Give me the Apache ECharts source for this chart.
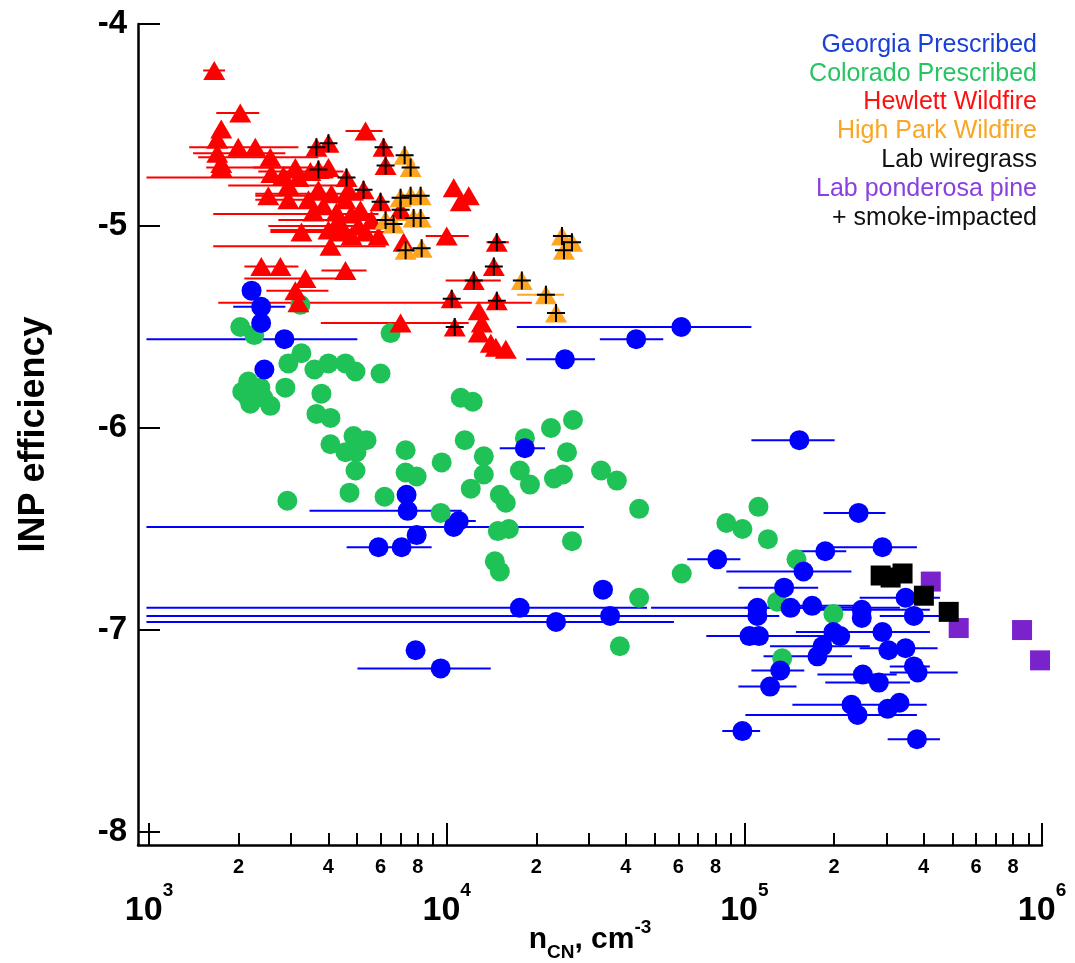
<!DOCTYPE html>
<html>
<head>
<meta charset="utf-8">
<script src="https://cdn.jsdelivr.net/npm/echarts@6/dist/echarts.min.js"></script>
<style>
html,body{margin:0;padding:0;background:#fff;}
#chart{width:1075px;height:963px;}
</style>
</head>
<body>
<div id="chart"></div>
<script>
// ---------------- DATA (n_CN in cm^-3, INP efficiency as log10) ----------------
// rows: [nCN, efficiency, errLow nCN, errHigh nCN]  (null = no error bar)
const georgiaPrescribed = [
  [2210,-5.32,null,null],[2380,-5.40,1918,2870],[2380,-5.48,null,null],[2850,-5.56,980,5010],
  [2440,-5.71,null,null],[61400,-5.50,17200,105600],[43300,-5.56,32700,53400],[24960,-5.66,18500,31500],
  [18300,-6.10,15070,21400],[153000,-6.06,105600,201000],[7330,-6.33,null,null],[7390,-6.41,3460,11230],
  [7925,-6.53,null,null],[5900,-6.59,4610,8900],[7055,-6.59,null,null],[10980,-6.46,9400,12520],
  [10560,-6.49,980,28900],[17600,-6.89,980,47100],[35400,-6.93,980,92500],[23300,-6.96,980,58000],
  [33500,-6.80,null,null],[7860,-7.10,null,null],[9545,-7.19,5015,14060],
  [242000,-6.42,184500,298000],[81100,-6.65,64300,97000],[187000,-6.61,153000,220000],
  [291000,-6.59,193000,380000],[158000,-6.71,87000,229000],[136000,-6.79,95500,177000],
  [110600,-6.89,48600,209000],[110600,-6.93,82400,131000],[143000,-6.89,100000,333000],
  [169000,-6.88,120000,250000],[248000,-6.90,176000,420000],[248000,-6.94,null,null],
  [348000,-6.84,244000,454000],[371000,-6.93,285000,454000],[104000,-7.03,74500,209000],
  [112000,-7.03,null,null],[199000,-7.01,149000,285000],[210000,-7.03,null,null],
  [291000,-7.01,209000,420000],[183000,-7.08,122000,264000],[176000,-7.13,116000,230000],
  [305000,-7.10,null,null],[348000,-7.09,244000,446000],[132000,-7.20,105600,159000],
  [122000,-7.28,95500,149700],[250000,-7.22,176000,325000],[283000,-7.26,187000,360000],
  [371000,-7.18,308000,420000],[382000,-7.21,308000,521000],[229000,-7.37,145000,410000],
  [240000,-7.42,100800,380000],[303000,-7.39,null,null],[332000,-7.36,null,null],
  [98500,-7.50,84300,113000],[380000,-7.54,303000,454000]
];
const coloradoPrescribed = [
  [2025,-5.50],[2257,-5.54],[3225,-5.39],[6477,-5.53],[3250,-5.63],[2938,-5.68],[3593,-5.71],
  [4006,-5.68],[4570,-5.68],[4938,-5.72],[5994,-5.73],[2154,-5.77],[2365,-5.80],[2870,-5.80],
  [2057,-5.82],[2154,-5.85],[2420,-5.85],[2188,-5.88],[2556,-5.89],[3794,-5.83],[3650,-5.93],
  [4069,-5.95],[4069,-6.08],[4862,-6.04],[5377,-6.06],[4570,-6.12],[4976,-6.12],[4938,-6.21],
  [7277,-6.11],[9618,-6.17],[7277,-6.22],[7925,-6.24],[11145,-5.85],[12231,-5.87],[11498,-6.06],
  [13323,-6.14],[13323,-6.23],[12045,-6.30],[4715,-6.32],[6184,-6.34],[2915,-6.36],[9545,-6.42],
  [15082,-6.33],[15795,-6.37],[14850,-6.51],[16172,-6.50],[14509,-6.66],[15082,-6.71],
  [18312,-6.05],[22400,-6.00],[26560,-5.96],[25360,-6.12],[17610,-6.21],[19043,-6.28],
  [22924,-6.25],[24579,-6.23],[33000,-6.21],[37290,-6.26],[44310,-6.40],[26355,-6.56],
  [44310,-6.84],[38160,-7.08],[61620,-6.72],[111530,-6.39],[87000,-6.47],[98510,-6.50],
  [119970,-6.55],[149700,-6.65],[128860,-6.86],[199100,-6.92],[134040,-7.14]
];
const hewlettWildfire = [
  [1656,-4.23,1520,1800],[2025,-4.44,1682,2346],[1748,-4.52,null,null],[1695,-4.57,null,null],
  [1994,-4.61,1364,3175],[2275,-4.61,null,null],[1695,-4.64,1406,2870],[2556,-4.66,1462,3707],
  [1748,-4.69,null,null],[1748,-4.71,1556,3175],[3101,-4.71,2239,4006],[2576,-4.74,null,null],
  [3484,-4.73,2328,4500],[4006,-4.71,null,null],[3175,-4.76,980,4164],[4100,-4.84,2275,4677],
  [4570,-4.87,2275,5254],[4788,-4.94,1643,5902],[5055,-5.00,2516,6892],[4329,-4.97,2719,6378],
  [4006,-5.02,2556,5462],[5336,-5.03,3175,6378],[5590,-4.97,3431,6892],[4431,-5.03,null,null],
  [4788,-5.05,null,null],[3250,-5.03,2556,4500],[4069,-5.10,1643,6232],[5902,-5.05,null,null],
  [7165,-5.08,null,null],[2383,-5.20,2090,3175],[2762,-5.20,null,null],[3353,-5.26,2090,4500],
  [3101,-5.32,2478,4006],[4570,-5.22,3794,5377],[3175,-5.38,1708,19300],[6998,-5.48,3776,11860],
  [10000,-5.05,8500,11860],[10558,-4.81,null,null],[11860,-4.85,null,null],[11145,-4.88,null,null],
  [12816,-5.42,null,null],[13115,-5.48,null,null],[12816,-5.53,null,null],[14066,-5.58,null,null],
  [15795,-5.61,null,null],[14621,-5.60,null,null],[2516,-4.85,2275,4006],[3566,-4.93,null,null],
  [3707,-4.82,null,null],[2938,-4.80,1845,4329],[5336,-4.53,4570,6090],
  [3431,-4.87,null,null],[3854,-4.90,null,null],[4263,-4.93,null,null],[5133,-4.92,null,null],
  [4677,-4.82,null,null],[2938,-4.87,null,null],[2826,-4.75,null,null]
];
const hewlettSmokeImpacted = [
  [4006,-4.59,null,null],[3650,-4.61,null,null],[3707,-4.72,null,null],[4606,-4.76,null,null],
  [5254,-4.82,null,null],[5994,-4.88,null,null],[6136,-4.61,null,null],[6232,-4.70,null,null],
  [6998,-4.92,null,null],[14735,-5.08,13600,16170],[14397,-5.20,null,null],[12328,-5.27,9920,15200],
  [10395,-5.36,null,null],[14735,-5.37,null,null],[10640,-5.50,null,null]
];
const highParkWildfire = [
  [7221,-4.65,null,null],[7564,-4.71,null,null],[6998,-4.86,null,null],[7564,-4.85,null,null],
  [8174,-4.85,null,null],[6232,-4.97,5678,7448],[6630,-4.99,null,null],[7742,-4.96,null,null],
  [8174,-4.96,null,null],[7277,-5.12,null,null],[8238,-5.11,null,null],[24391,-5.05,null,null],
  [26355,-5.08,null,null],[24772,-5.12,null,null],[17882,-5.27,null,null],[21543,-5.34,17250,24772],
  [23294,-5.43,null,null]
];
const labWiregrass = [[287000,-6.73],[310000,-6.74],[340000,-6.72],[401000,-6.83],[486000,-6.91]];
const labPonderosaPine = [[423000,-6.76],[525000,-6.99],[857000,-7.00],[985000,-7.15]];

// axis ticks
const xRange = [918, 1e6];
const yRange = [-8.064, -4];
const xMajorTicks = [1e3, 1e4, 1e5, 1e6];
const xMinorMultipliers = [2, 3, 4, 5, 6, 7, 8, 9];
const xMinorLabels = [2, 4, 6, 8];
const yTicks = [-8, -7, -6, -5, -4];

const legendItems = [
  ['Georgia Prescribed', '#1a3fd4'],
  ['Colorado Prescribed', '#27c462'],
  ['Hewlett Wildfire', '#ff1010'],
  ['High Park Wildfire', '#f8a623'],
  ['Lab wiregrass', '#111111'],
  ['Lab ponderosa pine', '#8a3fe0'],
  ['+ smoke-impacted', '#111111']
];

// ---------------- BUILD ----------------
const lg = v => Math.log10(v);
const pts = rows => rows.map(r => [lg(r[0]), r[1]]);
const bars = rows => rows.filter(r => r[2] != null).map(r => [lg(r[0]), r[1], lg(r[2]), lg(r[3])]);
const minorVals = [], minorLabelVals = [];
[1e3, 1e4, 1e5].forEach(d => {
  xMinorMultipliers.forEach(m => minorVals.push(lg(m * d)));
  xMinorLabels.forEach(m => minorLabelVals.push(lg(m * d)));
});

function errSeries(rows, color) {
  return {
    type: 'custom', clip: true, z: 2, silent: true,
    data: bars(rows),
    renderItem: (params, api) => {
      const y = api.value(1);
      const a = api.coord([api.value(2), y]);
      const b = api.coord([api.value(3), y]);
      return { type: 'line', shape: { x1: a[0], y1: a[1], x2: b[0], y2: b[1] },
               style: { stroke: color, lineWidth: 2 } };
    }
  };
}
function scat(rows, symbol, size, color, z) {
  return { type: 'scatter', clip: true, symbol: symbol, symbolSize: size, z: z,
           itemStyle: { color: color, opacity: 1 }, silent: true, data: pts(rows) };
}
const crossPath = 'path://M8,0H10V18H8Z M0,8H18V10H0Z';

const BLUE = '#0000ff', GREEN = '#1fc257', RED = '#ff0000', ORANGE = '#ffa41f', PURPLE = '#7a22cc';

const FONT = '"Liberation Sans", Arial, Helvetica, sans-serif';

const option = {
  backgroundColor: '#fff',
  animation: false,
  grid: { left: 138, right: 33, top: 24, bottom: 118, containLabel: false, outerBoundsMode: 'none' },
  xAxis: [
    {
      type: 'value', min: lg(xRange[0]), max: lg(xRange[1]), position: 'bottom',
      axisLine: { show: true, onZero: false, lineStyle: { color: '#000', width: 2.5 } },
      axisTick: { show: true, inside: true, length: 22, lineStyle: { color: '#000', width: 2 },
                  customValues: xMajorTicks.map(lg) },
      axisLabel: {
        customValues: xMajorTicks.map(lg), margin: 36, hideOverlap: false,
        formatter: v => '{b|10}{s|' + Math.round(v) + '}',
        rich: {
          b: { fontSize: 34, fontWeight: 'bold', fontFamily: FONT, color: '#000', lineHeight: 60, verticalAlign: 'middle' },
          s: { fontSize: 19, fontWeight: 'bold', fontFamily: FONT, color: '#000', lineHeight: 20, verticalAlign: 'top' }
        }
      },
      splitLine: { show: false },
      name: '{n|n}{sub|CN}{n|, cm}{sup|-3}', nameLocation: 'middle', nameGap: 73,
      nameMoveOverlap: false,
      nameTextStyle: {
        rich: {
          n: { fontSize: 30, fontWeight: 'bold', fontFamily: FONT, color: '#000', lineHeight: 44, verticalAlign: 'middle' },
          sub: { fontSize: 19, fontWeight: 'bold', fontFamily: FONT, color: '#000', lineHeight: 18, verticalAlign: 'bottom' },
          sup: { fontSize: 19, fontWeight: 'bold', fontFamily: FONT, color: '#000', lineHeight: 18, verticalAlign: 'top' }
        }
      }
    },
    {
      type: 'value', min: lg(xRange[0]), max: lg(xRange[1]), position: 'bottom', gridIndex: 0,
      axisLine: { show: false },
      axisTick: { show: true, inside: true, length: 12, lineStyle: { color: '#000', width: 2 },
                  customValues: minorVals },
      axisLabel: {
        customValues: minorLabelVals, margin: 12, hideOverlap: false,
        fontSize: 20, fontWeight: 'bold', fontFamily: FONT, color: '#000',
        formatter: v => String(Math.round(Math.pow(10, v - Math.floor(v + 1e-9))))
      },
      splitLine: { show: false }
    }
  ],
  yAxis: {
    type: 'value', min: yRange[0], max: yRange[1],
    axisLine: { show: true, onZero: false, lineStyle: { color: '#000', width: 2.5 } },
    axisTick: { show: true, inside: true, length: 22, lineStyle: { color: '#000', width: 2 },
                customValues: yTicks },
    axisLabel: { customValues: yTicks, margin: 11, fontSize: 33, fontWeight: 'bold',
                 fontFamily: FONT, color: '#000', formatter: v => String(v) },
    splitLine: { show: false },
    name: 'INP efficiency', nameLocation: 'middle', nameGap: 86, nameRotate: 90,
    nameMoveOverlap: false,
    nameTextStyle: { fontSize: 36, fontWeight: 'bold', fontFamily: FONT, color: '#000' }
  },
  series: [
    scat(coloradoPrescribed, 'circle', 20, GREEN, 3),
    errSeries(georgiaPrescribed, BLUE),
    scat(georgiaPrescribed, 'circle', 20, BLUE, 4),
    errSeries(hewlettWildfire, RED),
    errSeries(hewlettSmokeImpacted, RED),
    scat(hewlettWildfire, 'triangle', [22, 19], RED, 5),
    scat(hewlettSmokeImpacted, 'triangle', [22, 19], RED, 5),
    errSeries(highParkWildfire, ORANGE),
    scat(highParkWildfire, 'triangle', [22, 19], ORANGE, 6),
    scat(hewlettSmokeImpacted, crossPath, 18, '#000', 7),
    scat(highParkWildfire, crossPath, 18, '#000', 7),
    scat(labPonderosaPine, 'rect', 20, PURPLE, 8),
    scat(labWiregrass, 'rect', 20, '#000', 9)
  ],
  graphic: legendItems.map((it, i) => ({
    type: 'text', x: 1037, y: 45 + i * 28.8, z: 100,
    style: { text: it[0], fill: it[1], font: '25px ' + FONT, align: 'right', verticalAlign: 'middle',
             textAlign: 'right', textVerticalAlign: 'middle' }
  }))
};

const chart = echarts.init(document.getElementById('chart'), null, { renderer: 'canvas' });
chart.setOption(option);
</script>
</body>
</html>
